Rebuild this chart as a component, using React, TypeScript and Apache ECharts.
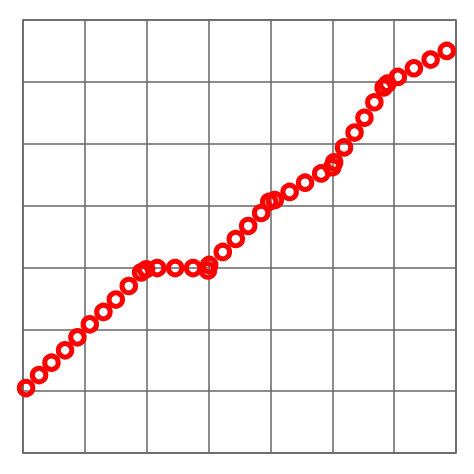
import React, { useEffect, useRef } from 'react'
import * as echarts from 'echarts'

// points, in order along the curve
const xValues = [
  0.05, 0.26, 0.46, 0.68, 0.88, 1.08, 1.30, 1.50, 1.71, 1.91, 1.99, 2.17, 2.46, 2.75, 3.01, 2.99,
  3.23, 3.44, 3.64, 3.85, 3.98, 4.07, 4.31, 4.56, 4.82, 5.00, 5.03, 5.19, 5.36, 5.52, 5.68, 5.83,
  5.89, 6.06, 6.32, 6.59, 6.85,
]
const yValues = [
  1.05, 1.26, 1.46, 1.66, 1.87, 2.08, 2.28, 2.48, 2.70, 2.92, 2.97, 2.99, 2.99, 2.99, 3.04, 2.95,
  3.25, 3.46, 3.67, 3.88, 4.06, 4.09, 4.22, 4.37, 4.52, 4.62, 4.70, 4.94, 5.18, 5.42, 5.67, 5.91,
  5.97, 6.08, 6.22, 6.36, 6.50,
]
const axisMin = 0
const axisMax = 7

export default function App(): JSX.Element {
  const ref = useRef<HTMLDivElement>(null)

  useEffect(() => {
    if (!ref.current) return
    const chart = echarts.init(ref.current, undefined, { renderer: 'svg' })
    const gridLine = { show: true, lineStyle: { color: '#666', width: 1.5 } }
    const axis = {
      type: 'value' as const,
      min: axisMin,
      max: axisMax,
      interval: 1,
      axisLine: { show: false },
      axisTick: { show: false },
      axisLabel: { show: false },
      splitLine: gridLine,
    }
    chart.setOption({
      animation: false,
      grid: { left: 23, right: 18, top: 20, bottom: 21, show: true, borderColor: '#666', borderWidth: 1.5 },
      xAxis: axis,
      yAxis: axis,
      series: [{
        type: 'scatter',
        symbol: 'circle',
        symbolSize: 13.5,
        itemStyle: { color: 'rgba(0,0,0,0)', borderColor: '#f00', borderWidth: 5, opacity: 1 },
        data: xValues.map((x, i) => [x, yValues[i]]),
      }],
    })
    return () => chart.dispose()
  }, [])

  return <div ref={ref} style={{ position: 'absolute', left: 0, top: 0, width: 474, height: 474, background: '#fff' }} />
}
